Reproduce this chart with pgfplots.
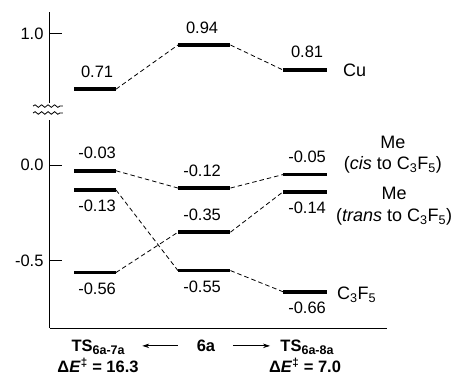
\documentclass[border=0pt]{standalone}
\usepackage{pgfplots}
\pgfplotsset{compat=1.18}
\usepackage{fontspec}
\setmainfont{Liberation Sans}
\usetikzlibrary{decorations.pathmorphing,arrows.meta}
\newcommand{\bsub}[1]{\raisebox{-0.35ex}{\fontsize{12.5bp}{14bp}\selectfont #1}}
\begin{document}
\begin{tikzpicture}[font=\fontsize{16.5bp}{19bp}\selectfont]
\path[use as bounding box] (-50bp,-49bp) rectangle (407bp,328bp);
\begin{axis}[
  at={(0,0)}, anchor=south west,
  scale only axis, width=337bp, height=316bp,
  xmin=-0.4286, xmax=2.781, ymin=-0.849, ymax=0.797,
  axis x line=bottom, axis y line=left,
  x axis line style={-, line width=1bp},
  y axis line style={draw=none},
  xtick=\empty,
  ytick={-0.5,0,0.685}, yticklabels={-0.5,0.0,1.0},
  tick align=inside, major tick length=12bp,
  tick style={line width=1bp, black},
  yticklabel style={font=\fontsize{16.5bp}{19bp}\selectfont, xshift=-3bp},
  clip=false,
  level/.style={line width=3.6bp, black},
  conn/.style={line width=0.8bp, black, dash pattern=on 4.5bp off 3bp},
  upper/.style={y filter/.expression={y-0.315}},
]
% y axis line with break
\draw[line width=1bp] (axis cs:-0.4286,-0.849) -- (axis cs:-0.4286,0.234);
\draw[line width=1bp] (axis cs:-0.4286,0.323) -- (axis cs:-0.4286,0.797);
\draw[line width=0.8bp, decorate, decoration={snake, amplitude=1.3bp, segment length=6.5bp}] (axis cs:-0.59,0.307) -- (axis cs:-0.305,0.307);
\draw[line width=0.8bp, decorate, decoration={snake, amplitude=1.3bp, segment length=6.5bp}] (axis cs:-0.59,0.271) -- (axis cs:-0.305,0.271);

% Cu
\addplot[level, upper] coordinates {(-0.2,0.71) (0.2,0.71)};
\addplot[level, upper] coordinates {(0.79,0.94) (1.29,0.94)};
\addplot[level, upper] coordinates {(1.79,0.81) (2.21,0.81)};
\addplot[conn, upper] coordinates {(0.2,0.71) (0.79,0.94)};
\addplot[conn, upper] coordinates {(1.29,0.94) (1.79,0.81)};
% Me cis
\addplot[level] coordinates {(-0.2,-0.03) (0.2,-0.03)};
\addplot[level] coordinates {(0.79,-0.12) (1.29,-0.12)};
\addplot[level] coordinates {(1.79,-0.05) (2.21,-0.05)};
\addplot[conn] coordinates {(0.2,-0.03) (0.79,-0.12)};
\addplot[conn] coordinates {(1.29,-0.12) (1.79,-0.05)};
% Me trans
\addplot[level] coordinates {(-0.2,-0.56) (0.2,-0.56)};
\addplot[level] coordinates {(0.79,-0.35) (1.29,-0.35)};
\addplot[level] coordinates {(1.79,-0.14) (2.21,-0.14)};
\addplot[conn] coordinates {(0.2,-0.56) (0.79,-0.35)};
\addplot[conn] coordinates {(1.29,-0.35) (1.79,-0.14)};
% C3F5
\addplot[level] coordinates {(-0.2,-0.13) (0.2,-0.13)};
\addplot[level] coordinates {(0.79,-0.55) (1.29,-0.55)};
\addplot[level] coordinates {(1.79,-0.66) (2.21,-0.66)};
\addplot[conn] coordinates {(0.2,-0.13) (0.79,-0.55)};
\addplot[conn] coordinates {(1.29,-0.55) (1.79,-0.66)};

% value labels
\tikzset{la/.style={anchor=base, yshift=12bp}, lb/.style={anchor=base, yshift=-22bp}}
\node[la] at (axis cs:0.02,{0.71-0.315}) {0.71};
\node[la] at (axis cs:1.02,{0.94-0.315}) {0.94};
\node[la] at (axis cs:2.02,{0.81-0.315}) {0.81};
\node[la] at (axis cs:0.02,-0.03) {-0.03};
\node[la] at (axis cs:1.02,-0.12) {-0.12};
\node[la] at (axis cs:2.02,-0.05) {-0.05};
\node[lb] at (axis cs:0.02,-0.56) {-0.56};
\node[la] at (axis cs:1.02,-0.35) {-0.35};
\node[lb] at (axis cs:2.02,-0.14) {-0.14};
\node[lb] at (axis cs:0.02,-0.13) {-0.13};
\node[lb] at (axis cs:1.02,-0.55) {-0.55};
\node[lb] at (axis cs:2.02,-0.66) {-0.66};

% series names
\tikzset{nm/.style={font=\fontsize{18bp}{21bp}\selectfont}}
\node[nm, anchor=west, inner sep=0pt] at (axis cs:2.362,{0.81-0.315}) {Cu};
\node[nm] at (axis cs:2.838,0.120) {Me};
\node[nm] at (axis cs:2.838,0.0) {(\textit{cis} to C\textsubscript{3}F\textsubscript{5})};
\node[nm] at (axis cs:2.848,-0.146) {Me};
\node[nm] at (axis cs:2.848,-0.271) {(\textit{trans} to C\textsubscript{3}F\textsubscript{5})};
\node[nm, anchor=west, inner sep=0pt] at (axis cs:2.305,-0.677) {C\textsubscript{3}F\textsubscript{5}};

% bottom labels
\tikzset{bt/.style={anchor=base, inner sep=1bp, font=\fontsize{16.5bp}{19bp}\selectfont\bfseries}}
\node[bt] at (axis cs:0.029,-0.970) {TS\bsub{6a-7a}};
\node[bt] at (axis cs:0.029,-1.080) {Δ\textit{E}\textsuperscript{‡} = 16.3};
\node[bt] at (axis cs:1.057,-0.970) {6a};
\node[bt] at (axis cs:2.019,-0.970) {TS\bsub{6a-8a}};
\node[bt] at (axis cs:2.0,-1.080) {Δ\textit{E}\textsuperscript{‡} = 7.0};
\draw[line width=0.8bp, -{Stealth[length=7bp, width=4.5bp]}] (axis cs:0.79,-0.942) -- (axis cs:0.45,-0.942);
\draw[line width=0.8bp, -{Stealth[length=7bp, width=4.5bp]}] (axis cs:1.314,-0.942) -- (axis cs:1.667,-0.942);
\end{axis}
\end{tikzpicture}
\end{document}
